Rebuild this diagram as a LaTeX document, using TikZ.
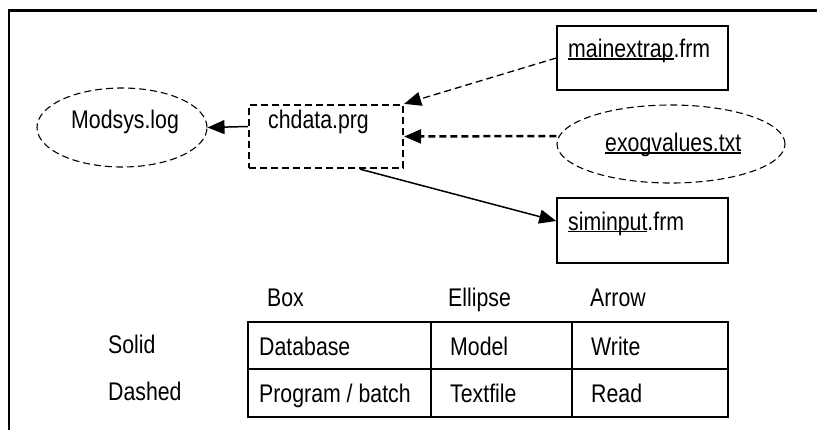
\documentclass[tikz,border=0pt]{standalone}
\usepackage{fontspec}
\setmainfont{Liberation Sans}[FakeStretch=0.835]
\usetikzlibrary{arrows.meta,shapes.geometric}

% underline a word with a rule just below the baseline
\newcommand\ulword[1]{\setbox0\hbox{#1}\rlap{\rule[-2.2pt]{\wd0}{1.4pt}}\box0}

\tikzset{
  filebox/.style={draw, line width=1.5pt, minimum width=171pt, minimum height=64pt, inner sep=0pt},
  progbox/.style={draw, line width=2.3pt, dash pattern=on 7pt off 4pt, inner sep=0pt},
  textellipse/.style={ellipse, draw, line width=1.1pt, dash pattern=on 7pt off 4pt, inner sep=0pt},
  lbl/.style={anchor=base west, inner sep=0pt},
  tip/.style={-{Triangle[length=17pt,width=14pt]}},
  writearrow/.style={tip, line width=1.5pt},
  readarrow/.style={tip, line width=1.3pt, dash pattern=on 7pt off 4pt},
  readarrowbold/.style={tip, line width=2.5pt, dash pattern=on 7pt off 4pt},
  cellborder/.style={line width=1.6pt},
  cellsep/.style={line width=2.6pt},
}

\begin{document}
\begin{tikzpicture}[x=1pt, y=-1pt, font=\fontsize{25.5}{30}\selectfont]
  \fill[white] (0,0) rectangle (817,429);
  \useasboundingbox (0,0) rectangle (817,429);

  % open frame: left and top edges only
  \draw[line width=2.7pt] (9,435) -- (9,10.3) -- (825,10.3);

  % shapes
  \node[textellipse, minimum width=170pt, minimum height=79pt] (modsys) at (122,127.5) {};
  \node[progbox, minimum width=154pt, minimum height=63pt] (chdata) at (326,136.5) {};
  \node[filebox] (mainextrap) at (642.5,58) {};
  \node[textellipse, minimum width=228pt, minimum height=78pt] (exog) at (671,144) {};
  \node[filebox, minimum height=65pt] (siminput) at (642.5,230.5) {};

  % their texts
  \node[lbl] (modsystxt) at (71,128) {Modsys.log};
  \node[lbl] (chdatatxt) at (268,128) {chdata.prg};
  \node[lbl] (mainextraptxt) at (568,57.5) {\ulword{mainextrap}.frm};
  \node[lbl] (exogtxt) at (605,151.5) {\ulword{exogvalues.txt}};
  \node[lbl] (siminputtxt) at (568,230) {\ulword{siminput}.frm};

  % connectors
  \draw[writearrow] ([yshift=10pt]chdata.west) -- (modsys.east);
  \draw[readarrow] (mainextrap.west) -- (chdata.north east);
  \draw[readarrowbold] ([yshift=8pt]exog.west) -- (chdata.east);
  \draw[writearrow] ([xshift=34pt]chdata.south) -- ([yshift=9.5pt]siminput.west);

  % legend table
  \draw[cellborder] (248,322) rectangle (728,417);
  \draw[cellsep] (248,369) -- (728,369);
  \draw[cellsep] (431,322) -- (431,417);
  \draw[cellsep] (572,322) -- (572,417);

  \node[lbl] (hbox) at (267,306) {Box};
  \node[lbl] (hellipse) at (448,306) {Ellipse};
  \node[lbl] (harrow) at (590,306) {Arrow};
  \node[lbl] (rsolid) at (108,353) {Solid};
  \node[lbl] (rdashed) at (108,400) {Dashed};

  \node[lbl] (cdatabase) at (259,355) {Database};
  \node[lbl] (cprogram) at (259,402) {Program / batch};
  \node[lbl] (cmodel) at (450,355) {Model};
  \node[lbl] (ctextfile) at (450,402) {Textfile};
  \node[lbl] (cwrite) at (591,355) {Write};
  \node[lbl] (cread) at (591,402) {Read};
\end{tikzpicture}
\end{document}
